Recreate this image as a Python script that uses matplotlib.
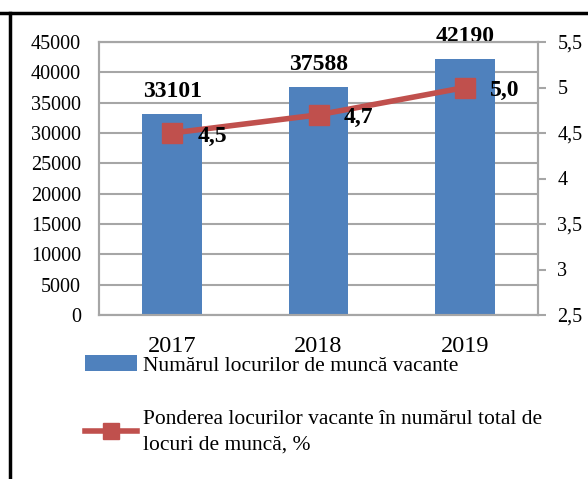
import numpy as np
import matplotlib
matplotlib.use("Agg")
import matplotlib.pyplot as plt
from matplotlib.lines import Line2D
from matplotlib.patches import Patch

years = ["2017", "2018", "2019"]
vacancies = [33101, 37588, 42190]
share = [4.5, 4.7, 5.0]
share_labels = ["4,5", "4,7", "5,0"]
left_ticks = [0, 5000, 10000, 15000, 20000, 25000, 30000, 35000, 40000, 45000]
right_ticks = [2.5, 3, 3.5, 4, 4.5, 5, 5.5]
right_tick_labels = ["2,5", "3", "3,5", "4", "4,5", "5", "5,5"]

blue = "#4F81BD"
red = "#C0504D"
grid_c = "#A6A6A6"

plt.rcParams['font.family'] = ['Liberation Serif', 'DejaVu Serif']

fig = plt.figure(figsize=(5.88, 4.79), dpi=100)
ax = fig.add_axes([99/588, 1-315/479, (538-99)/588, (315-42)/479])
x = np.arange(len(years))

ax.bar(x, vacancies, width=0.41, color=blue, zorder=2)
ax.set_xlim(-0.5, 2.5)
ax.set_ylim(0, 45000)
ax.set_yticks(left_ticks)
ax.set_yticklabels([str(t) for t in left_ticks], fontsize=14.5)
ax.set_xticks(x)
ax.set_xticklabels(years, fontsize=17.5)
ax.tick_params(axis='y', length=0, pad=13)
ax.tick_params(axis='x', length=0, pad=15)
ax.grid(axis='y', color=grid_c, linewidth=1.5, zorder=0)
ax.set_axisbelow(True)
for s in ax.spines.values():
    s.set_color(grid_c)
    s.set_linewidth(1.5)

for xi, v in zip(x, vacancies):
    ax.annotate(str(v), (xi, v), xytext=(0, 12), textcoords='offset pixels',
                ha='center', va='bottom', fontsize=17, fontweight='bold')

ax2 = ax.twinx()
ax2.plot(x, share, color=red, linewidth=4, marker='s', markersize=14, zorder=3)
ax2.set_ylim(2.5, 5.5)
ax2.set_yticks(right_ticks)
ax2.set_yticklabels(right_tick_labels, fontsize=14.5)
ax2.tick_params(axis='y', length=6, width=1.5, color=grid_c, pad=8)
for s in ax2.spines.values():
    s.set_color(grid_c)
    s.set_linewidth(1.5)

for xi, v, lab in zip(x, share, share_labels):
    ax2.annotate(lab, (xi, v), xytext=(25, -3), textcoords='offset pixels',
                 ha='left', va='center', fontsize=17, fontweight='bold')

handles = [Patch(facecolor=blue),
           Line2D([0], [0], color=red, linewidth=4, marker='s', markersize=11)]
labels = ["Numărul locurilor de muncă vacante",
          "Ponderea locurilor vacante în numărul total de\nlocuri de muncă, %"]
leg = fig.legend(handles, labels, loc='upper left', bbox_to_anchor=(85/588, 1-355/479),
                 frameon=False, fontsize=15.5, handlelength=2.4, handleheight=0.8,
                 labelspacing=1.6, handletextpad=0.3, borderaxespad=0, borderpad=0)
leg.get_texts()[1].set_linespacing(1.45)

# frame lines of the surrounding table cell
fig.add_artist(Line2D([0, 1], [1-13/479, 1-13/479], color='black', linewidth=2.5))
fig.add_artist(Line2D([10/588, 10/588], [0, 1-13/479], color='black', linewidth=2.5))

fig.savefig("out.png", dpi=100)
